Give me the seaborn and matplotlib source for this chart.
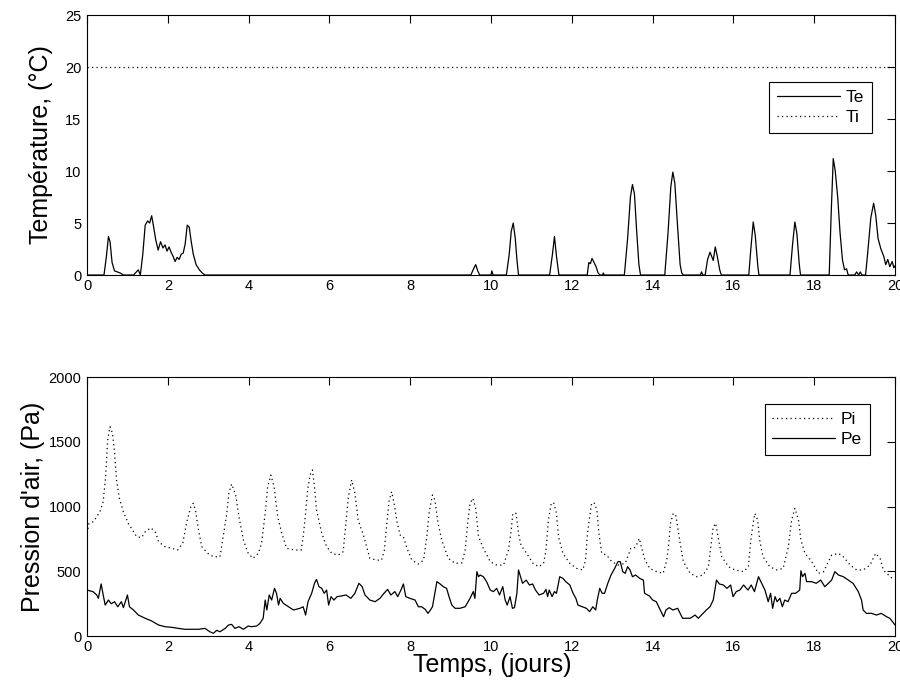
import matplotlib
matplotlib.use("Agg")
import matplotlib.pyplot as plt
import seaborn as sns
import pandas as pd

# ---- Température extérieure Te (°C) ----
te_days = [0.0, 0.42, 0.48, 0.53, 0.57, 0.62, 0.68, 0.75, 0.82, 0.9,
           1.15, 1.22, 1.27, 1.32, 1.38, 1.44, 1.5, 1.55, 1.6, 1.65,
           1.7, 1.76, 1.82, 1.88, 1.93, 1.98, 2.03, 2.08, 2.13, 2.18,
           2.23, 2.28, 2.33, 2.38, 2.43, 2.48, 2.53, 2.58, 2.63, 2.7,
           2.78, 2.85, 2.92,
           9.5, 9.58, 9.62, 9.67, 9.72, 10.0, 10.02, 10.05,
           10.38, 10.45, 10.5, 10.55, 10.6, 10.64, 10.68,
           11.45, 11.52, 11.57, 11.62, 11.68,
           12.38, 12.42, 12.46, 12.5, 12.55, 12.6, 12.65, 12.7, 12.76, 12.78, 12.8,
           13.3, 13.38, 13.45, 13.5, 13.55, 13.6, 13.66, 13.7,
           14.3, 14.38, 14.45, 14.5, 14.55, 14.62, 14.68, 14.72, 14.76,
           15.18, 15.21, 15.24, 15.3, 15.36, 15.42, 15.46, 15.5, 15.55, 15.6, 15.66, 15.7,
           16.38, 16.43, 16.49, 16.54, 16.6, 16.63,
           17.4, 17.46, 17.52, 17.57, 17.63, 17.66,
           18.37, 18.42, 18.47, 18.52, 18.58, 18.64, 18.7, 18.75, 18.8, 18.84,
           19.0, 19.05, 19.1, 19.14, 19.18, 19.27,
           19.32, 19.4, 19.47, 19.52, 19.58, 19.65, 19.72, 19.77, 19.82, 19.87,
           19.93, 19.97, 20.0]
te_values = [0.0, 0.0, 1.8, 3.7, 3.2, 1.2, 0.4, 0.3, 0.2, 0.0,
             0.0, 0.3, 0.5, 0.0, 2.0, 4.8, 5.2, 5.0, 5.7, 4.6,
             3.4, 2.4, 3.2, 2.6, 2.9, 2.3, 2.7, 2.2, 1.8, 1.3,
             1.7, 1.5, 2.0, 2.1, 3.0, 4.8, 4.6, 3.2, 2.0, 1.0,
             0.5, 0.2, 0.0,
             0.0, 0.7, 1.0, 0.4, 0.0, 0.0, 0.4, 0.0,
             0.0, 2.0, 4.2, 5.0, 3.5, 1.5, 0.0,
             0.0, 2.0, 3.7, 1.8, 0.0,
             0.0, 1.2, 1.1, 1.6, 1.2, 0.8, 0.2, 0.0, 0.0, 0.2, 0.0,
             0.0, 3.5, 7.5, 8.7, 7.8, 4.5, 1.0, 0.0,
             0.0, 4.0, 8.5, 9.9, 8.8, 4.5, 1.0, 0.2, 0.0,
             0.0, 0.3, 0.0, 0.0, 1.5, 2.2, 1.8, 1.4, 2.7, 1.8, 0.5, 0.0,
             0.0, 2.5, 5.1, 3.8, 1.0, 0.0,
             0.0, 2.8, 5.1, 4.0, 1.0, 0.0,
             0.0, 6.0, 11.2, 10.0, 7.5, 4.0, 1.4, 0.5, 0.6, 0.0,
             0.0, 0.3, 0.0, 0.3, 0.0, 0.0,
             2.0, 5.5, 6.9, 5.8, 3.5, 2.5, 1.8, 1.0, 1.5, 0.8,
             1.3, 0.7, 0.9]

# ---- Température intérieure Ti (°C) ----
ti_days = [0.0, 20.0]
ti_values = [20.0, 20.0]

# ---- Pression intérieure Pi (Pa) ----
pi_days = [0.0, 0.05, 0.16, 0.32, 0.4, 0.46, 0.51, 0.57, 0.63, 0.68,
           0.73, 0.8, 0.9, 1.02, 1.23, 1.35, 1.44, 1.58, 1.7, 1.77,
           1.93, 2.1, 2.24, 2.37, 2.47, 2.57, 2.63, 2.69, 2.76, 2.84,
           2.99, 3.13, 3.29, 3.37, 3.46, 3.51, 3.58, 3.68, 3.76, 3.87,
           3.99, 4.11, 4.24, 4.32, 4.41, 4.47, 4.55, 4.63, 4.72, 4.82,
           4.94, 5.15, 5.3, 5.35, 5.41, 5.46, 5.52, 5.58, 5.63, 5.68,
           5.81, 5.93, 6.06, 6.22, 6.34, 6.4, 6.47, 6.55, 6.63, 6.71,
           6.84, 7.0, 7.17, 7.29, 7.36, 7.42, 7.48, 7.54, 7.6, 7.68,
           7.75, 7.83, 7.92, 8.04, 8.2, 8.33, 8.41, 8.47, 8.55, 8.61,
           8.69, 8.78, 8.94, 9.11, 9.28, 9.36, 9.42, 9.48, 9.55, 9.62,
           9.69, 9.81, 9.98, 10.14, 10.31, 10.43, 10.49, 10.54, 10.62, 10.68,
           10.74, 10.88, 11.04, 11.18, 11.3, 11.36, 11.42, 11.49, 11.55, 11.62,
           11.67, 11.78, 11.95, 12.12, 12.27, 12.34, 12.38, 12.43, 12.49, 12.55,
           12.62, 12.67, 12.74, 12.86, 12.99, 13.15, 13.32, 13.4, 13.46, 13.54,
           13.6, 13.67, 13.73, 13.81, 13.93, 14.1, 14.26, 14.35, 14.4, 14.44,
           14.51, 14.57, 14.62, 14.68, 14.76, 14.93, 15.09, 15.25, 15.38, 15.44,
           15.5, 15.56, 15.62, 15.71, 15.88, 16.04, 16.25, 16.37, 16.43, 16.5,
           16.53, 16.6, 16.65, 16.73, 16.9, 17.07, 17.23, 17.36, 17.44, 17.52,
           17.61, 17.67, 17.77, 17.94, 18.1, 18.23, 18.35, 18.43, 18.6, 18.72,
           18.89, 19.05, 19.21, 19.38, 19.52, 19.63, 19.71, 19.88, 19.98]
pi_values = [793, 870, 883, 960, 1037, 1230, 1513, 1616, 1565, 1423,
             1205, 1063, 960, 870, 767, 760, 805, 836, 798, 728,
             690, 677, 664, 716, 883, 998, 1025, 960, 818, 690,
             638, 612, 612, 767, 947, 1102, 1174, 1089, 921, 741,
             638, 600, 638, 716, 947, 1153, 1243, 1153, 921, 793,
             677, 664, 664, 767, 947, 1127, 1243, 1282, 1153, 973,
             793, 690, 638, 625, 651, 844, 1076, 1205, 1102, 896,
             780, 600, 586, 586, 664, 870, 1050, 1114, 1024, 870,
             780, 767, 677, 586, 556, 586, 767, 960, 1089, 1050,
             870, 741, 600, 561, 565, 664, 870, 1024, 1063, 986,
             767, 677, 574, 548, 548, 664, 793, 947, 947, 793,
             703, 638, 561, 535, 561, 664, 896, 1024, 1030, 947,
             767, 638, 561, 522, 510, 586, 767, 896, 1024, 1030,
             973, 793, 638, 625, 574, 548, 561, 625, 677, 677,
             703, 754, 677, 586, 522, 497, 484, 586, 716, 870,
             947, 934, 844, 716, 574, 484, 458, 471, 535, 690,
             844, 870, 767, 612, 535, 510, 497, 535, 741, 896,
             947, 896, 741, 612, 535, 510, 522, 690, 896, 986,
             896, 741, 638, 574, 484, 497, 574, 625, 638, 612,
             548, 510, 510, 548, 638, 599, 510, 458, 432]

# ---- Pression extérieure Pe (Pa) ----
pe_days = [0.0, 0.15, 0.24, 0.28, 0.35, 0.4, 0.45, 0.53, 0.6, 0.68,
           0.76, 0.85, 0.9, 1.0, 1.05, 1.15, 1.27, 1.44, 1.6, 1.77,
           1.93, 2.1, 2.26, 2.43, 2.59, 2.76, 2.92, 3.04, 3.13, 3.21,
           3.29, 3.42, 3.5, 3.58, 3.66, 3.76, 3.87, 3.99, 4.07, 4.2,
           4.28, 4.36, 4.41, 4.45, 4.51, 4.57, 4.64, 4.69, 4.74, 4.78,
           4.86, 4.99, 5.11, 5.2, 5.27, 5.35, 5.41, 5.47, 5.56, 5.63,
           5.68, 5.74, 5.81, 5.87, 5.93, 5.98, 6.04, 6.11, 6.19, 6.29,
           6.41, 6.53, 6.63, 6.73, 6.81, 6.88, 7.0, 7.13, 7.25, 7.35,
           7.44, 7.52, 7.62, 7.69, 7.77, 7.83, 7.89, 7.99, 8.12, 8.2,
           8.28, 8.37, 8.44, 8.5, 8.55, 8.61, 8.66, 8.74, 8.82, 8.9,
           8.96, 9.03, 9.11, 9.23, 9.36, 9.48, 9.56, 9.6, 9.65, 9.69,
           9.73, 9.81, 9.89, 9.98, 10.06, 10.14, 10.21, 10.29, 10.35, 10.4,
           10.47, 10.53, 10.58, 10.64, 10.68, 10.73, 10.78, 10.87, 10.95, 11.03,
           11.1, 11.19, 11.3, 11.36, 11.4, 11.44, 11.51, 11.57, 11.62, 11.7,
           11.78, 11.85, 11.95, 12.03, 12.1, 12.15, 12.26, 12.36, 12.44, 12.52,
           12.59, 12.63, 12.69, 12.75, 12.81, 12.89, 12.97, 13.06, 13.14, 13.2,
           13.26, 13.32, 13.38, 13.44, 13.5, 13.58, 13.68, 13.77, 13.8, 13.92,
           14.0, 14.09, 14.17, 14.27, 14.33, 14.41, 14.5, 14.62, 14.74, 14.86,
           14.93, 15.05, 15.13, 15.25, 15.33, 15.42, 15.5, 15.58, 15.65, 15.75,
           15.84, 15.93, 15.99, 16.07, 16.16, 16.25, 16.36, 16.44, 16.52, 16.62,
           16.7, 16.78, 16.86, 16.92, 16.97, 17.03, 17.08, 17.15, 17.21, 17.27,
           17.35, 17.44, 17.54, 17.64, 17.67, 17.71, 17.77, 17.81, 17.93, 18.05,
           18.16, 18.26, 18.35, 18.43, 18.51, 18.6, 18.72, 18.84, 18.96, 19.09,
           19.17, 19.21, 19.29, 19.42, 19.54, 19.66, 19.79, 19.87, 20.0]
pe_values = [355, 342, 317, 291, 402, 317, 239, 278, 249, 265,
             226, 265, 219, 317, 226, 201, 162, 137, 116, 85,
             72, 67, 59, 52, 52, 52, 59, 33, 21, 44,
             33, 59, 85, 90, 59, 72, 52, 77, 72, 77,
             98, 137, 278, 201, 317, 278, 368, 330, 239, 291,
             252, 226, 201, 208, 214, 226, 162, 265, 330, 407,
             437, 381, 368, 330, 355, 239, 304, 278, 304, 309,
             317, 291, 330, 407, 381, 317, 278, 265, 291, 330,
             360, 317, 343, 304, 355, 402, 304, 291, 278, 226,
             226, 206, 175, 201, 226, 330, 420, 402, 381, 368,
             304, 239, 214, 214, 226, 291, 343, 291, 497, 458,
             471, 458, 420, 355, 343, 368, 317, 381, 278, 239,
             304, 214, 219, 330, 510, 458, 407, 432, 394, 402,
             355, 317, 330, 360, 304, 355, 304, 343, 330, 458,
             445, 420, 394, 330, 291, 239, 226, 214, 188, 226,
             201, 278, 368, 330, 330, 407, 471, 522, 574, 574,
             497, 484, 535, 510, 458, 471, 445, 432, 330, 309,
             278, 265, 214, 149, 201, 219, 201, 214, 137, 137,
             137, 162, 137, 175, 201, 226, 278, 432, 402, 394,
             368, 394, 304, 343, 355, 394, 355, 394, 343, 458,
             407, 355, 265, 330, 214, 304, 265, 291, 226, 278,
             265, 330, 330, 355, 504, 458, 484, 420, 420, 407,
             432, 381, 407, 432, 497, 471, 458, 432, 407, 343,
             278, 201, 175, 175, 162, 175, 149, 137, 85]

day_ticks = list(range(0, 21, 2))
temp_ticks = [0, 5, 10, 15, 20, 25]
press_ticks = [0, 500, 1000, 1500, 2000]

sns.set_theme(style="white")
plt.rcParams["font.family"] = ["Liberation Sans", "DejaVu Sans"]
plt.rcParams["axes.edgecolor"] = "black"
plt.rcParams["axes.linewidth"] = 0.8

te_df = pd.DataFrame({"jours": te_days, "valeur": te_values})
ti_df = pd.DataFrame({"jours": ti_days, "valeur": ti_values})
pi_df = pd.DataFrame({"jours": pi_days, "valeur": pi_values})
pe_df = pd.DataFrame({"jours": pe_days, "valeur": pe_values})

fig = plt.figure(figsize=(9, 7), dpi=100)
fig.patch.set_facecolor("white")
ax1 = fig.add_axes([0.0967, 0.6071, 0.8978, 0.3714])
ax2 = fig.add_axes([0.0967, 0.0914, 0.8978, 0.3700])

LW = 0.9
DOT = (0, (1.0, 2.6))

sns.lineplot(data=te_df, x="jours", y="valeur", ax=ax1, color="black",
             linewidth=LW, estimator=None, label="Te")
sns.lineplot(data=ti_df, x="jours", y="valeur", ax=ax1, color="black",
             linewidth=LW, linestyle=DOT, estimator=None, label="Ti")

sns.lineplot(data=pi_df, x="jours", y="valeur", ax=ax2, color="black",
             linewidth=LW, linestyle=DOT, estimator=None, label="Pi")
sns.lineplot(data=pe_df, x="jours", y="valeur", ax=ax2, color="black",
             linewidth=LW, estimator=None, label="Pe")

for ax, yt, ylim in ((ax1, temp_ticks, (0, 25)), (ax2, press_ticks, (0, 2000))):
    ax.set_xlim(0, 20)
    ax.set_ylim(*ylim)
    ax.set_xticks(day_ticks)
    ax.set_yticks(yt)
    ax.set_xticklabels([str(t) for t in day_ticks])
    ax.set_yticklabels([str(t) for t in yt])
    ax.tick_params(axis="both", direction="in", length=5.8, width=0.8,
                   top=True, right=True, labelsize=10.5, colors="black",
                   pad=4)
    ax.tick_params(axis="x", pad=3)
    for s in ax.spines.values():
        s.set_visible(True)
        s.set_color("black")
        s.set_linewidth(0.8)
    ax.grid(False)
    ax.set_facecolor("white")

ax1.set_xlabel("")
ax1.set_ylabel("Température, (°C)", fontsize=18, color="black")
ax2.set_ylabel("Pression d'air, (Pa)", fontsize=18, color="black")
ax2.set_xlabel("Temps, (jours)", fontsize=18, color="black")
ax1.yaxis.label.set_va("center")
ax2.yaxis.label.set_va("center")
ax2.xaxis.label.set_va("center")
ax1.yaxis.set_label_coords(-0.057, 0.5)
ax2.yaxis.set_label_coords(-0.067, 0.5)
ax2.xaxis.set_label_coords(0.502, -0.112)

leg_kw = dict(frameon=True, fancybox=False, edgecolor="black", framealpha=1,
              fontsize=12.5, handlelength=3.6, handletextpad=0.35,
              borderpad=0.45, labelspacing=0.3, borderaxespad=0)
l1 = ax1.legend(loc="upper right", bbox_to_anchor=(0.9715, 0.742), **leg_kw)
l2 = ax2.legend(loc="upper right", bbox_to_anchor=(0.969, 0.896), **leg_kw)
for lg in (l1, l2):
    lg.get_frame().set_linewidth(0.8)
    for t in lg.get_texts():
        t.set_color("black")

fig.savefig("out.png", dpi=100, facecolor="white")
